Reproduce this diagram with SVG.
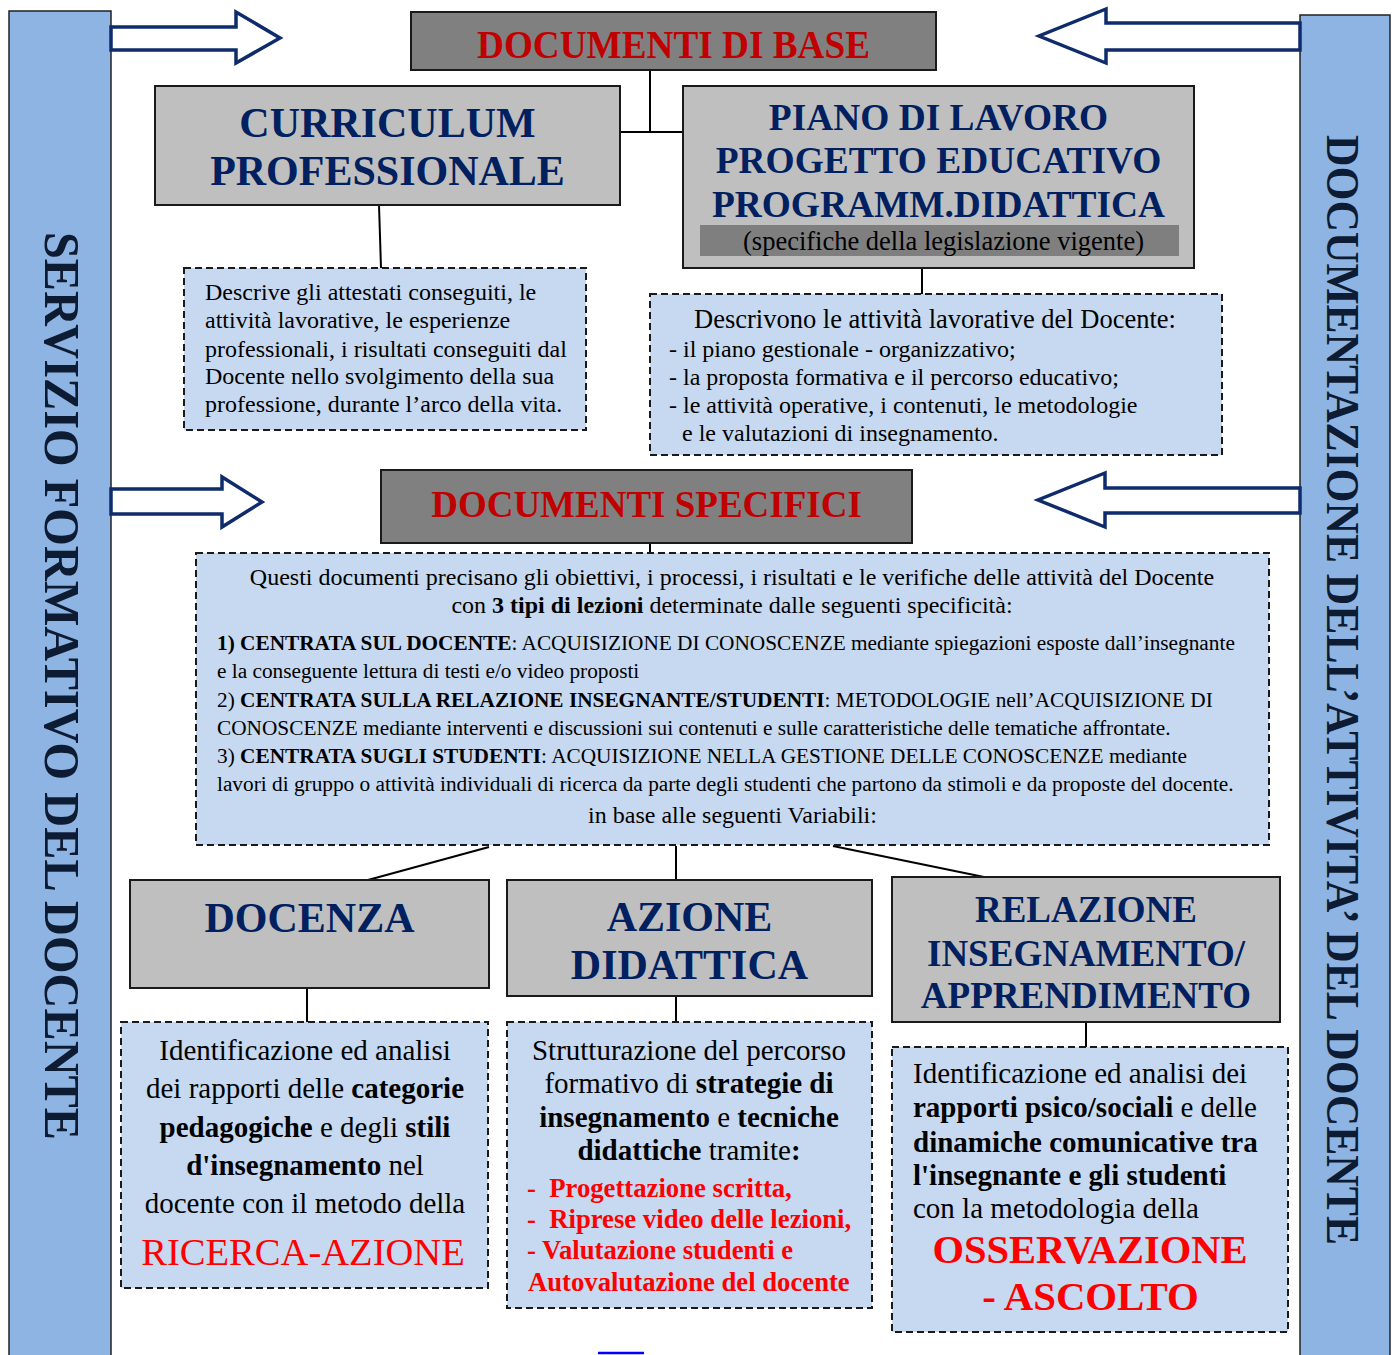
<svg xmlns="http://www.w3.org/2000/svg" width="1392" height="1355" viewBox="0 0 1392 1355">
<style>
.bar{fill:#8EB4E3;stroke:#222;stroke-width:1.5}
.dark{fill:#808080;stroke:#1a1a1a;stroke-width:2}
.gray{fill:#BFBFBF;stroke:#1a1a1a;stroke-width:2}
.desc{fill:#C6D9F1;stroke:#1a1a1a;stroke-width:2;stroke-dasharray:7 4}
.arrow{fill:#fff;stroke:#0E2B6B;stroke-width:3.5;stroke-linejoin:miter}
.conn{stroke:#000;stroke-width:2;fill:none}
text{font-family:"Liberation Serif","Times New Roman",serif}
.red{fill:#C00000;font-weight:bold}
.navy{fill:#002060;font-weight:bold}
.side{fill:#0d1b33;font-weight:bold}
.c{text-anchor:middle}
.b{font-weight:bold}
.r2{fill:#FF0000}
</style>
<rect width="1392" height="1355" fill="#fff"/>
<g id="bar-left">
<rect class="bar" x="9" y="11" width="102" height="1350"/>
<text class="side c" font-size="50" textLength="908" lengthAdjust="spacingAndGlyphs" transform="translate(45,686) rotate(90)">SERVIZIO FORMATIVO DEL DOCENTE</text>
</g>
<g id="bar-right">
<rect class="bar" x="1300" y="15" width="90" height="1346"/>
<text class="side c" font-size="47" textLength="1110" lengthAdjust="spacingAndGlyphs" transform="translate(1327,690) rotate(90)">DOCUMENTAZIONE DELL’ATTIVITA’ DEL DOCENTE</text>
</g>
<g id="arrows">
<path class="arrow" d="M111,27 H236 V12 L280,38 L236,63 V50 H111 Z"/>
<path class="arrow" d="M1300,23 H1106 V9 L1039,36 L1106,63 V50 H1300 Z"/>
<path class="arrow" d="M111,489 H222 V477 L262,502 L222,527 V514 H111 Z"/>
<path class="arrow" d="M1300,488 H1105 V473 L1038,500 L1105,527 V513 H1300 Z"/>
</g>
<g id="connectors">
<path class="conn" d="M650,70 V132 M620,132 H683"/>
<path class="conn" d="M379,205 L381,268"/>
<path class="conn" d="M922,268 V294"/>
<path class="conn" d="M650,543 V553"/>
<path class="conn" d="M489,847 L368,880"/>
<path class="conn" d="M676,846 V880"/>
<path class="conn" d="M833,846 L984,877"/>
<path class="conn" d="M307,988 V1022"/>
<path class="conn" d="M676,996 V1022"/>
<path class="conn" d="M1086,1022 V1047"/>
</g>
<g id="documenti-di-base">
<rect class="dark" x="411" y="12" width="525" height="58"/>
<text class="red c" x="673.5" y="58" font-size="39" textLength="393" lengthAdjust="spacingAndGlyphs">DOCUMENTI DI BASE</text>
</g>
<g id="curriculum">
<rect class="gray" x="155" y="86" width="465" height="119"/>
<text class="navy c" x="387.5" y="137" font-size="42">CURRICULUM</text>
<text class="navy c" x="387.5" y="185" font-size="42">PROFESSIONALE</text>
</g>
<g id="piano">
<rect class="gray" x="683" y="86" width="511" height="182"/>
<text class="navy c" x="938.5" y="130" font-size="37.4">PIANO DI LAVORO</text>
<text class="navy c" x="938.5" y="173" font-size="37.4">PROGETTO EDUCATIVO</text>
<text class="navy c" x="938.5" y="217" font-size="37.4">PROGRAMM.DIDATTICA</text>
<rect x="700" y="225" width="479" height="31" fill="#7F7F7F"/>
<text class="c" x="943.5" y="250" font-size="26.5">(specifiche della legislazione vigente)</text>
</g>
<g id="curriculum-desc">
<rect class="desc" x="184" y="268" width="402" height="162"/>
<g font-size="24">
<text x="205" y="300">Descrive gli attestati conseguiti, le</text>
<text x="205" y="328">attività lavorative, le esperienze</text>
<text x="205" y="357">professionali, i risultati conseguiti dal</text>
<text x="205" y="384">Docente nello svolgimento della sua</text>
<text x="205" y="412">professione, durante l’arco della vita.</text>
</g>
</g>
<g id="piano-desc">
<rect class="desc" x="650" y="294" width="572" height="161"/>
<text x="694" y="328" font-size="26.5">Descrivono le attività lavorative del Docente:</text>
<g font-size="24">
<text x="669" y="357">- il piano gestionale - organizzativo;</text>
<text x="669" y="385">- la proposta formativa e il percorso educativo;</text>
<text x="669" y="413">- le attività operative, i contenuti, le metodologie</text>
<text x="682" y="441">e le valutazioni di insegnamento.</text>
</g>
</g>
<g id="documenti-specifici">
<rect class="dark" x="381" y="470" width="531" height="73"/>
<text class="red c" x="646.5" y="517" font-size="37">DOCUMENTI SPECIFICI</text>
</g>
<g id="specifici-desc">
<rect class="desc" x="196" y="553" width="1073" height="292"/>
<text class="c" x="732" y="585" font-size="24">Questi documenti precisano gli obiettivi, i processi, i risultati e le verifiche delle attività del Docente</text>
<text class="c" x="732" y="613" font-size="24">con <tspan class="b">3 tipi di lezioni</tspan> determinate dalle seguenti specificità:</text>
<g font-size="21.3">
<text x="217" y="650"><tspan class="b">1) CENTRATA SUL DOCENTE</tspan>: ACQUISIZIONE DI CONOSCENZE mediante spiegazioni esposte dall’insegnante</text>
<text x="217" y="678">e la conseguente lettura di testi e/o video proposti</text>
<text x="217" y="707">2) <tspan class="b">CENTRATA SULLA RELAZIONE INSEGNANTE/STUDENTI</tspan>: METODOLOGIE nell’ACQUISIZIONE DI</text>
<text x="217" y="735">CONOSCENZE mediante interventi e discussioni sui contenuti e sulle caratteristiche delle tematiche affrontate.</text>
<text x="217" y="763">3) <tspan class="b">CENTRATA SUGLI STUDENTI</tspan>: ACQUISIZIONE NELLA GESTIONE DELLE CONOSCENZE mediante</text>
<text x="217" y="791">lavori di gruppo o attività individuali di ricerca da parte degli studenti che partono da stimoli e da proposte del docente.</text>
</g>
<text class="c" x="732.5" y="823" font-size="24">in base alle seguenti Variabili:</text>
</g>
<g id="docenza">
<rect class="gray" x="130" y="880" width="359" height="108"/>
<text class="navy c" x="309.5" y="932" font-size="42">DOCENZA</text>
</g>
<g id="azione">
<rect class="gray" x="507" y="880" width="365" height="116"/>
<text class="navy c" x="689.5" y="931" font-size="42">AZIONE</text>
<text class="navy c" x="689.5" y="979" font-size="42">DIDATTICA</text>
</g>
<g id="relazione">
<rect class="gray" x="892" y="877" width="388" height="145"/>
<text class="navy c" x="1086" y="922" font-size="37">RELAZIONE</text>
<text class="navy c" x="1086" y="966" font-size="37">INSEGNAMENTO/</text>
<text class="navy c" x="1086" y="1008" font-size="37">APPRENDIMENTO</text>
</g>
<g id="docenza-desc">
<rect class="desc" x="121" y="1022" width="367" height="266"/>
<g font-size="29" text-anchor="middle">
<text x="305" y="1060">Identificazione ed analisi</text>
<text x="305" y="1098">dei rapporti delle <tspan class="b">categorie</tspan></text>
<text x="305" y="1137"><tspan class="b">pedagogiche</tspan> e degli <tspan class="b">stili</tspan></text>
<text x="305" y="1175"><tspan class="b">d'insegnamento</tspan> nel</text>
<text x="305" y="1213">docente con il metodo della</text>
</g>
<text class="c r2" x="303" y="1265" font-size="38.6">RICERCA-AZIONE</text>
</g>
<g id="azione-desc">
<rect class="desc" x="507" y="1022" width="365" height="286"/>
<g font-size="29" text-anchor="middle">
<text x="689" y="1060">Strutturazione del percorso</text>
<text x="689" y="1093">formativo di <tspan class="b">strategie di</tspan></text>
<text x="689" y="1127"><tspan class="b">insegnamento</tspan> e <tspan class="b">tecniche</tspan></text>
<text x="689" y="1160"><tspan class="b">didattiche</tspan> tramite<tspan class="b">:</tspan></text>
</g>
<g font-size="26.7" class="b r2">
<text x="527" y="1197">-&#160; Progettazione scritta,</text>
<text x="527" y="1228">-&#160; Riprese video delle lezioni,</text>
<text x="527" y="1259">- Valutazione studenti e</text>
<text x="528" y="1291">Autovalutazione del docente</text>
</g>
</g>
<g id="relazione-desc">
<rect class="desc" x="892" y="1047" width="396" height="285"/>
<g font-size="29">
<text x="913" y="1083">Identificazione ed analisi dei</text>
<text x="913" y="1117"><tspan class="b">rapporti psico/sociali</tspan> e delle</text>
<text x="913" y="1152" class="b">dinamiche comunicative tra</text>
<text x="913" y="1185" class="b">l'insegnante e gli studenti</text>
<text x="913" y="1218">con la metodologia della</text>
</g>
<text class="c b r2" x="1090" y="1263" font-size="40.5">OSSERVAZIONE</text>
<text class="c b r2" x="1090.5" y="1310" font-size="40.8">- ASCOLTO</text>
</g>
<line x1="598" y1="1353" x2="644" y2="1353" stroke="#0000FF" stroke-width="2.5"/>
</svg>
